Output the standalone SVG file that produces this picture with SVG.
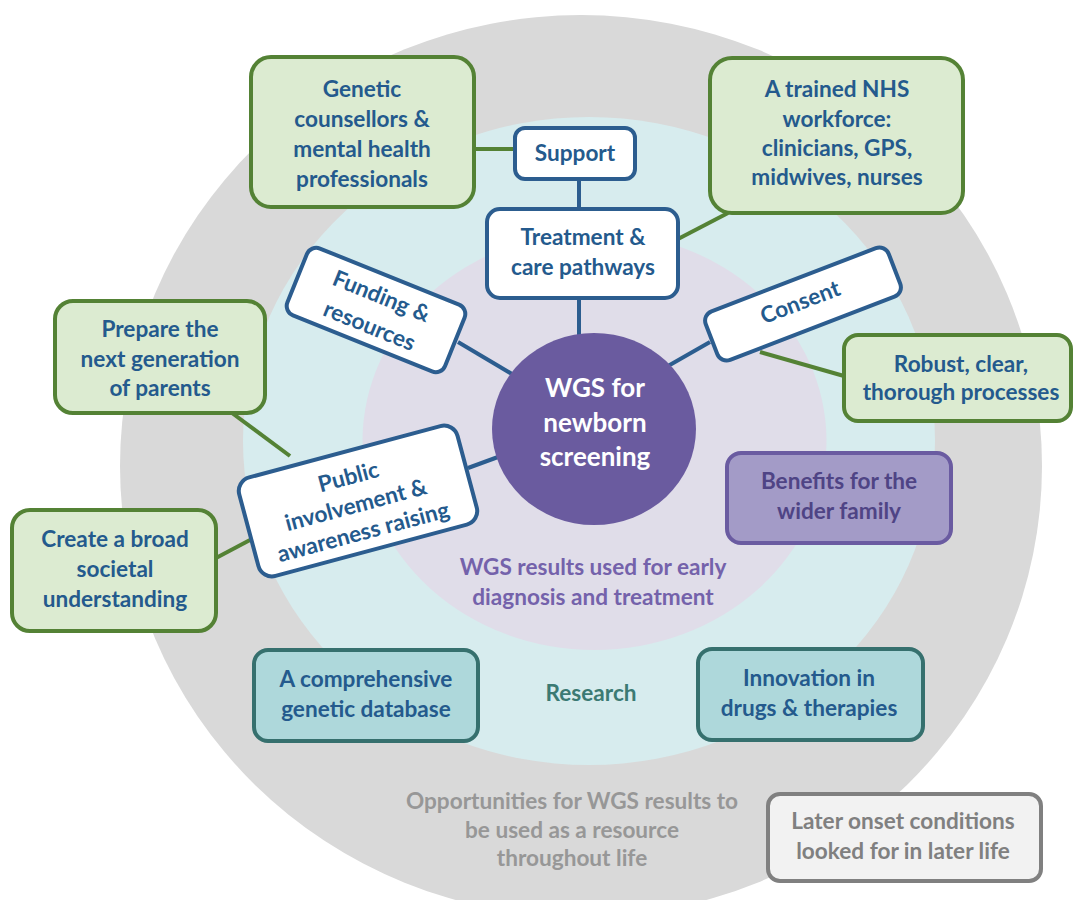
<svg xmlns="http://www.w3.org/2000/svg" width="1074" height="900" viewBox="0 0 1074 900">
<style>
.t{font-family:Lato,"Open Sans","Liberation Sans",sans-serif;font-weight:700;font-size:22.6px;text-anchor:middle;fill:#245a8d}
.green{fill:#dcebd1;stroke:#548235;stroke-width:4}
.blue{fill:#ffffff;stroke:#2c5d8f;stroke-width:4}
.teal{fill:#aed8db;stroke:#36706e;stroke-width:4}
.purple{fill:#a39bc7;stroke:#6a5ba1;stroke-width:4}
.grey{fill:#f2f2f2;stroke:#808080;stroke-width:4}
.lb{stroke:#2c5d8f;stroke-width:4;fill:none}
.lg{stroke:#548235;stroke-width:4;fill:none}
</style>
<rect width="1074" height="900" fill="#ffffff"/>
<g id="rings">
<ellipse cx="581" cy="466" rx="461" ry="451" fill="#d9d9d9"/>
<ellipse cx="589" cy="441" rx="346" ry="324" fill="#d7ecee"/>
<ellipse cx="594.5" cy="441" rx="232" ry="209" fill="#e0dde9"/>
<text class="t" x="593" y="575" style="fill:#7462ab">WGS results used for early</text>
<text class="t" x="593" y="605" style="fill:#7462ab">diagnosis and treatment</text>
<text class="t" x="591" y="701" style="fill:#3b7a73">Research</text>
<text class="t" x="572" y="809" style="fill:#979797">Opportunities for WGS results to</text>
<text class="t" x="572" y="838" style="fill:#979797">be used as a resource</text>
<text class="t" x="572" y="866" style="fill:#979797">throughout life</text>
</g>
<g id="connectors">
<line class="lg" x1="476" y1="149" x2="515" y2="149"/>
<line class="lb" x1="579" y1="179" x2="579" y2="209"/>
<line class="lb" x1="579" y1="298" x2="579" y2="336"/>
<line class="lg" x1="678" y1="239" x2="728" y2="213"/>
<line class="lb" x1="458" y1="342" x2="512" y2="374"/>
<line class="lb" x1="668" y1="366" x2="710" y2="342"/>
<line class="lg" x1="760" y1="352" x2="844" y2="376"/>
<line class="lb" x1="468" y1="468" x2="498" y2="457"/>
<line class="lg" x1="232" y1="413" x2="290" y2="456"/>
<line class="lg" x1="216" y1="558" x2="250" y2="540"/>
</g>
<g id="center">
<ellipse cx="594" cy="429" rx="102" ry="96" fill="#6a5b9f"/>
<text class="t" x="595" y="397" style="fill:#ffffff;font-size:26px">WGS for</text>
<text class="t" x="595" y="432" style="fill:#ffffff;font-size:26px">newborn</text>
<text class="t" x="595" y="466" style="fill:#ffffff;font-size:26px">screening</text>
</g>
<g id="genetic">
<rect class="green" x="251" y="57" width="223" height="150" rx="20"/>
<text class="t" x="362" y="97">Genetic</text>
<text class="t" x="362" y="127">counsellors &amp;</text>
<text class="t" x="362" y="157">mental health</text>
<text class="t" x="362" y="187">professionals</text>
</g>
<g id="support">
<rect class="blue" x="515" y="128" width="120" height="51" rx="10"/>
<text class="t" x="575" y="161">Support</text>
</g>
<g id="treatment">
<rect class="blue" x="487" y="209" width="191" height="89" rx="13"/>
<text class="t" x="583" y="245">Treatment &amp;</text>
<text class="t" x="583" y="275">care pathways</text>
</g>
<g id="nhs">
<rect class="green" x="710" y="58" width="253" height="155" rx="22"/>
<text class="t" x="837" y="97">A trained NHS</text>
<text class="t" x="837" y="127">workforce:</text>
<text class="t" x="837" y="156">clinicians, GPS,</text>
<text class="t" x="837" y="185">midwives, nurses</text>
</g>
<g id="funding" transform="translate(376 310) rotate(22)">
<rect class="blue" x="-85" y="-36" width="170" height="72" rx="10"/>
<text class="t" x="0" y="-7">Funding &amp;</text>
<text class="t" x="0" y="25">resources</text>
</g>
<g id="consent" transform="translate(803 304) rotate(-21)">
<rect class="blue" x="-98" y="-26" width="196" height="52" rx="10"/>
<text class="t" x="-2" y="5">Consent</text>
</g>
<g id="robust">
<rect class="green" x="844" y="335" width="227" height="86" rx="14"/>
<text class="t" x="961" y="372">Robust, clear,</text>
<text class="t" x="961" y="400">thorough processes</text>
</g>
<g id="prepare">
<rect class="green" x="55" y="301" width="210" height="112" rx="18"/>
<text class="t" x="160" y="337">Prepare the</text>
<text class="t" x="160" y="367">next generation</text>
<text class="t" x="160" y="396">of parents</text>
</g>
<g id="public" transform="translate(358 501) rotate(-15)">
<rect class="blue" x="-113" y="-51" width="226" height="102" rx="14"/>
<text class="t" x="-3" y="-18">Public</text>
<text class="t" x="-3" y="11">involvement &amp;</text>
<text class="t" x="-3" y="39">awareness raising</text>
</g>
<g id="create">
<rect class="green" x="12" y="510" width="204" height="121" rx="18"/>
<text class="t" x="115" y="547">Create a broad</text>
<text class="t" x="115" y="577">societal</text>
<text class="t" x="115" y="607">understanding</text>
</g>
<g id="benefits">
<rect class="purple" x="727" y="453" width="224" height="90" rx="14"/>
<text class="t" x="839" y="489" style="fill:#4f4485">Benefits for the</text>
<text class="t" x="839" y="519" style="fill:#4f4485">wider family</text>
</g>
<g id="database">
<rect class="teal" x="254" y="650" width="224" height="91" rx="14"/>
<text class="t" x="366" y="687">A comprehensive</text>
<text class="t" x="366" y="717">genetic database</text>
</g>
<g id="innovation">
<rect class="teal" x="698" y="649" width="225" height="91" rx="14"/>
<text class="t" x="809" y="686">Innovation in</text>
<text class="t" x="809" y="716">drugs &amp; therapies</text>
</g>
<g id="later">
<rect class="grey" x="768" y="794" width="273" height="87" rx="12"/>
<text class="t" x="903" y="829" style="fill:#808080">Later onset conditions</text>
<text class="t" x="903" y="859" style="fill:#808080">looked for in later life</text>
</g>
</svg>
